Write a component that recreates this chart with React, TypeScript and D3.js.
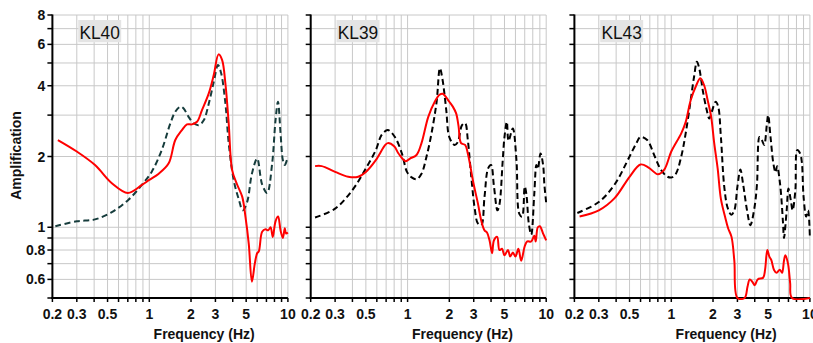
import React from 'react';
import * as d3 from 'd3';

// Axis ticks (log-log)
const xTickValues = [0.2, 0.3, 0.4, 0.5, 0.6, 0.7, 0.8, 0.9, 1, 2, 3, 4, 5, 6, 7, 8, 9, 10];
const xTickLabels = [0.2, 0.3, 0.5, 1, 2, 3, 5, 10];
const yTickValues = [0.5, 0.6, 0.7, 0.8, 0.9, 1, 2, 3, 4, 5, 6, 7, 8];
const yTickLabels = [0.6, 0.8, 1, 2, 4, 6, 8];
const stations = ['KL40', 'KL39', 'KL43'];

// [frequency Hz, amplification]
const kl40Solid: [number, number][] = [
  [0.219, 2.35], [0.3, 2.1], [0.406, 1.84], [0.537, 1.54], [0.7, 1.4], [0.88, 1.51], [1.0, 1.59],
  [1.17, 1.69], [1.38, 1.87], [1.54, 2.35], [1.72, 2.59], [1.87, 2.74], [2.03, 2.74], [2.21, 2.81],
  [2.4, 3.15], [2.69, 3.72], [2.92, 4.45], [3.16, 5.44], [3.35, 5.15], [3.54, 4.09], [3.74, 2.77],
  [3.96, 1.75], [4.3, 1.52], [4.68, 1.35], [4.94, 1.11], [5.22, 0.85], [5.5, 0.586], [5.77, 0.7],
  [6.0, 0.775], [6.17, 0.79], [6.52, 0.957], [6.89, 0.98], [7.2, 0.97], [7.5, 1.0], [7.78, 0.91],
  [8.14, 1.06], [8.5, 1.11], [8.85, 0.97], [9.2, 0.9], [9.5, 0.99], [9.7, 0.94], [10, 0.95],
];
const kl40Dashed: [number, number][] = [
  [0.21, 1.01], [0.3, 1.06], [0.406, 1.08], [0.537, 1.16], [0.708, 1.31], [0.88, 1.51], [1.04, 1.72],
  [1.23, 2.13], [1.42, 2.77], [1.54, 3.1], [1.68, 3.26], [1.77, 3.2], [1.92, 2.95], [2.09, 2.77],
  [2.28, 2.72], [2.47, 2.85], [2.69, 3.37], [2.92, 4.16], [3.13, 4.9], [3.3, 4.52], [3.54, 3.37],
  [3.74, 2.28], [4.07, 1.58], [4.43, 1.31], [4.72, 1.18], [5.08, 1.28], [5.5, 1.69], [6.0, 1.96],
  [6.52, 1.52], [7.08, 1.4], [7.7, 1.87], [8.14, 2.85], [8.48, 3.42], [8.85, 2.51], [9.2, 1.93],
  [9.5, 1.84], [10, 2.0],
];
const kl39Solid: [number, number][] = [
  [0.215, 1.82], [0.24, 1.82], [0.3, 1.72], [0.373, 1.64], [0.44, 1.64], [0.5, 1.72], [0.59, 1.93],
  [0.69, 2.24], [0.72, 2.28], [0.8, 2.21], [0.86, 2.06], [0.97, 1.91], [1.04, 1.96], [1.16, 2.03],
  [1.26, 2.28], [1.41, 2.95], [1.57, 3.42], [1.7, 3.66], [1.79, 3.7], [2.0, 3.42], [2.12, 3.26],
  [2.24, 3.05], [2.33, 2.7], [2.43, 2.28], [2.6, 2.24], [2.72, 2.06], [3.0, 1.52], [3.21, 1.27],
  [3.41, 1.06], [3.59, 0.97], [3.74, 0.95], [3.9, 0.88], [4.07, 0.775], [4.2, 0.88], [4.43, 0.91],
  [4.6, 0.8], [4.8, 0.81], [5.0, 0.76], [5.3, 0.8], [5.5, 0.75], [5.75, 0.78], [6.0, 0.75],
  [6.3, 0.81], [6.6, 0.72], [7.0, 0.83], [7.3, 0.87], [7.8, 0.87], [8.2, 0.92], [8.4, 0.87],
  [8.7, 1.0], [9.0, 1.01], [9.5, 0.94], [10, 0.88],
];
const kl39Dashed: [number, number][] = [
  [0.215, 1.1], [0.3, 1.2], [0.4, 1.44], [0.5, 1.78], [0.59, 2.13], [0.65, 2.47], [0.72, 2.59],
  [0.81, 2.42], [0.91, 2.06], [0.99, 1.72], [1.07, 1.63], [1.16, 1.6], [1.26, 1.69], [1.37, 2.0],
  [1.49, 2.52], [1.62, 3.42], [1.71, 4.75], [1.79, 4.22], [1.9, 3.16], [2.0, 2.42], [2.18, 2.24],
  [2.3, 2.3], [2.47, 2.72], [2.6, 2.77], [2.72, 2.35], [2.88, 1.64], [3.05, 1.2], [3.21, 1.04],
  [3.4, 1.02], [3.59, 1.35], [3.81, 1.78], [4.0, 1.84], [4.2, 1.49], [4.45, 1.18], [4.6, 1.25],
  [4.85, 1.9], [5.0, 2.42], [5.2, 2.81], [5.35, 2.33], [5.74, 2.63], [6.1, 1.93], [6.4, 1.14],
  [6.7, 1.11], [7.0, 1.49], [7.2, 1.38], [7.5, 1.03], [7.8, 0.93], [8.2, 1.38], [8.5, 1.84],
  [8.7, 1.77], [9.1, 2.06], [9.5, 1.84], [9.7, 1.52], [10, 1.27],
];
const kl43Solid: [number, number][] = [
  [0.218, 1.11], [0.3, 1.18], [0.39, 1.33], [0.5, 1.64], [0.6, 1.85], [0.69, 1.79], [0.8, 1.68],
  [0.89, 1.76], [1.0, 2.1], [1.18, 2.51], [1.27, 2.8], [1.38, 3.47], [1.51, 4.0], [1.62, 4.3],
  [1.73, 4.0], [1.83, 3.47], [1.94, 2.95], [2.04, 2.28], [2.16, 1.78], [2.28, 1.32], [2.45, 1.1],
  [2.57, 0.99], [2.72, 0.91], [2.85, 0.72], [3.0, 0.48], [3.38, 0.48], [3.55, 0.56], [3.68, 0.6],
  [3.85, 0.585], [4.0, 0.567], [4.2, 0.6], [4.6, 0.61], [4.75, 0.66], [4.93, 0.8], [5.1, 0.75],
  [5.27, 0.725], [5.5, 0.66], [5.75, 0.64], [6.07, 0.66], [6.3, 0.64], [6.5, 0.72], [6.65, 0.76],
  [6.95, 0.7], [7.2, 0.58], [7.43, 0.48], [10, 0.48],
];
const kl43Dashed: [number, number][] = [
  [0.21, 1.15], [0.3, 1.28], [0.39, 1.52], [0.5, 2.0], [0.56, 2.28], [0.6, 2.42], [0.67, 2.35],
  [0.76, 2.0], [0.84, 1.76], [0.94, 1.64], [1.01, 1.63], [1.08, 1.69], [1.18, 2.0], [1.27, 2.51],
  [1.38, 3.47], [1.46, 4.37], [1.53, 5.06], [1.59, 4.75], [1.69, 3.8], [1.8, 3.16], [1.88, 2.9],
  [1.96, 3.1], [2.09, 3.42], [2.18, 3.26], [2.28, 2.42], [2.41, 1.49], [2.55, 1.21], [2.71, 1.13],
  [2.85, 1.18], [3.0, 1.49], [3.15, 1.76], [3.3, 1.52], [3.52, 1.18], [3.72, 1.02], [3.98, 1.21],
  [4.15, 1.52], [4.33, 2.42], [4.5, 2.35], [4.68, 2.24], [4.9, 2.77], [5.0, 3.0], [5.2, 2.42],
  [5.45, 1.87], [5.65, 1.71], [5.8, 1.82], [6.1, 1.52], [6.4, 1.04], [6.5, 0.9], [6.8, 1.18],
  [7.0, 1.46], [7.3, 1.29], [7.5, 1.18], [7.85, 1.43], [8.1, 2.13], [8.5, 2.06], [8.75, 1.89],
  [9.0, 1.35], [9.4, 1.11], [9.7, 1.18], [10, 0.9],
];

const solidSeries = [kl40Solid, kl39Solid, kl43Solid];
const dashedSeries = [kl40Dashed, kl39Dashed, kl43Dashed];
const dashedColors = ['#163c3c', '#000000', '#000000'];

const WIDTH = 813;
const HEIGHT = 343;
const panelLefts = [52.4, 310.7, 574.4];
const panelWidth = 235.5;
const plotTop = 15;
const plotBottom = 298;
const FONT = '"Liberation Sans", Arial, sans-serif';

const fmt = (v: number) => String(v);

function Panel({ index }: { index: number }) {
  const left = panelLefts[index];
  const x = d3.scaleLog().domain([0.2, 10]).range([left, left + panelWidth]);
  const y = d3.scaleLog().domain([0.5, 8]).range([plotBottom, plotTop]).clamp(true);
  const line = d3
    .line<[number, number]>()
    .x((d) => x(d[0]))
    .y((d) => y(d[1]))
    .curve(d3.curveCatmullRom.alpha(0.5));
  const clipId = `clip-${index}`;
  const name = stations[index];

  return (
    <g>
      <defs>
        <clipPath id={clipId}>
          <rect x={left} y={plotTop - 3} width={panelWidth + 1} height={plotBottom - plotTop + 5} />
        </clipPath>
      </defs>
      {/* grid */}
      {yTickValues.map((v) => (
        <line key={`gy${v}`} x1={left} x2={left + panelWidth} y1={y(v)} y2={y(v)} stroke="#c8c8c8" strokeWidth={1} />
      ))}
      {xTickValues.map((v) => (
        <line key={`gx${v}`} x1={x(v)} x2={x(v)} y1={plotTop} y2={plotBottom} stroke="#c8c8c8" strokeWidth={1} />
      ))}
      {/* station label */}
      <rect x={left + 25.8} y={20} width={43} height={22.3} fill="#e4e4e4" />
      <text x={left + 27} y={39.2} fontFamily={FONT} fontSize={19} fill="#111" textLength={40.5} lengthAdjust="spacingAndGlyphs">
        {name}
      </text>
      {/* axes */}
      <line x1={left} x2={left} y1={plotTop - 0.5} y2={plotBottom + 1} stroke="#000" strokeWidth={2} />
      <line x1={left - 1} x2={left + panelWidth} y1={plotBottom} y2={plotBottom} stroke="#000" strokeWidth={2} />
      {yTickValues.map((v) => (
        <line key={`ty${v}`} x1={left - 5} x2={left} y1={y(v)} y2={y(v)} stroke="#000" strokeWidth={1.5} />
      ))}
      {xTickValues.map((v) => (
        <line key={`tx${v}`} x1={x(v)} x2={x(v)} y1={plotBottom} y2={plotBottom + 4} stroke="#000" strokeWidth={1.5} />
      ))}
      {index === 0 &&
        yTickLabels.map((v) => (
          <text key={`ly${v}`} x={left - 7} y={y(v) + 5} textAnchor="end" fontFamily={FONT} fontWeight="bold" fontSize={14} fill="#111">
            {fmt(v)}
          </text>
        ))}
      {xTickLabels.map((v) => (
        <text key={`lx${v}`} x={x(v)} y={318.5} textAnchor="middle" fontFamily={FONT} fontWeight="bold" fontSize={14} fill="#111">
          {fmt(v)}
        </text>
      ))}
      <text x={left + panelWidth / 2 + 34} y={339} textAnchor="middle" fontFamily={FONT} fontWeight="bold" fontSize={14} fill="#111">
        Frequency (Hz)
      </text>
      {/* curves */}
      <g clipPath={`url(#${clipId})`}>
        <path d={line(dashedSeries[index]) || ''} fill="none" stroke={dashedColors[index]} strokeWidth={2} strokeDasharray="6,3.5" />
        <path d={line(solidSeries[index]) || ''} fill="none" stroke="#ff0000" strokeWidth={2} />
      </g>
    </g>
  );
}

export default function App() {
  return (
    <svg
      width={WIDTH}
      height={HEIGHT}
      viewBox={`0 0 ${WIDTH} ${HEIGHT}`}
      style={{ position: 'absolute', left: 0, top: 0, background: '#fff' }}
    >
      <rect width={WIDTH} height={HEIGHT} fill="#fff" />
      {stations.map((s, i) => (
        <Panel key={s} index={i} />
      ))}
      <text
        transform="translate(21,155.5) rotate(-90)"
        textAnchor="middle"
        fontFamily={FONT}
        fontWeight="bold"
        fontSize={14}
        fill="#111"
      >
        Amplification
      </text>
    </svg>
  );
}
